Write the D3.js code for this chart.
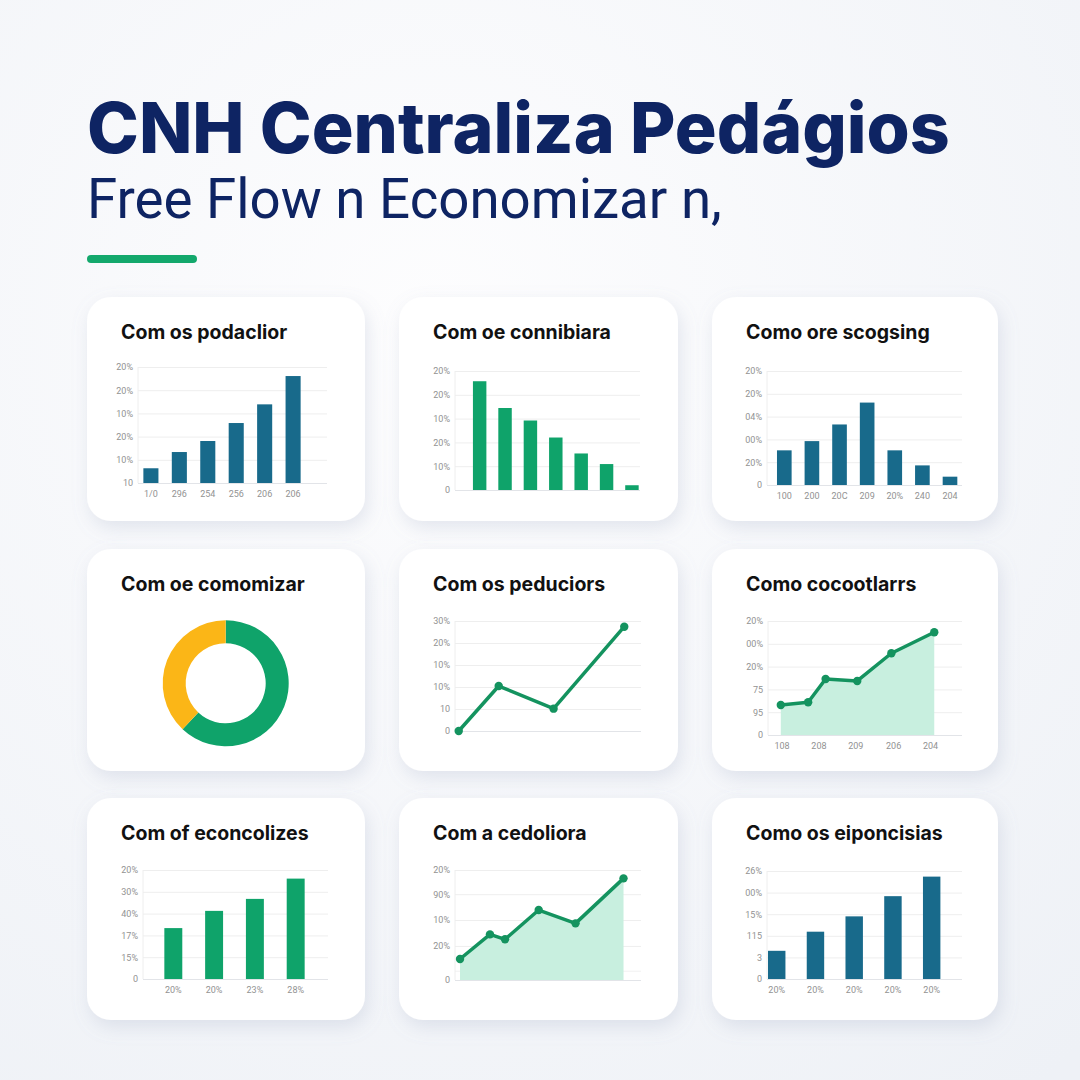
<!DOCTYPE html>
<html><head><meta charset="utf-8">
<script src="https://cdn.jsdelivr.net/npm/d3@7"></script>
<style>html,body{margin:0;padding:0;background:#f8f9fb;} svg{display:block;}</style>
</head><body>
<svg id="c" width="1080" height="1080"></svg>
<script>
// ---------- text ----------
const pageTitle = "CNH Centraliza Pedágios";
const pageSubtitle = "Free Flow n Economizar n,";
const cardTitles = [
  "Com os podaclior", "Com oe connibiara", "Como ore scogsing",
  "Com oe comomizar", "Com os peduciors", "Como cocootlarrs",
  "Com of econcolizes", "Com a cedoliora", "Como os eiponcisias"
];

// ---------- data ----------
// chart 1 (blue bars)
const c1Values = [12.7, 26.7, 36.2, 51.7, 67.8, 92.2];
const c1YLabels = ["10", "10%", "20%", "10%", "20%", "20%"];
const c1XLabels = ["1/0", "296", "254", "256", "206", "206"];
// chart 2 (green bars)
const c2Values = [91.4, 68.9, 58.4, 44.1, 30.7, 21.8, 4.0];
const c2YLabels = ["0", "10%", "20%", "10%", "20%", "20%"];
// chart 3 (blue bars)
const c3Values = [30.4, 38.5, 53.1, 72.3, 30.4, 17.2, 7.3];
const c3YLabels = ["0", "20%", "00%", "04%", "20%", "20%"];
const c3XLabels = ["100", "200", "20C", "209", "20%", "240", "204"];
// chart 4 (donut)
const c4Values = [62, 38];
// chart 5 (line)
const c5X = [2, 23.5, 53, 91];
const c5Y = [0, 40.9, 20.3, 94.8];
const c5YLabels = ["0", "10", "10%", "10%", "20%", "30%"];
// chart 6 (line + area)
const c6X = [6.6, 20.7, 29.7, 46, 63.6, 85.7];
const c6Y = [26.3, 28.7, 49.1, 47.4, 71.7, 90.1];
const c6YLabels = ["0", "95", "75", "20%", "00%", "20%"];
const c6XTicks = [7, 26, 45, 64.5, 83.5];
const c6XLabels = ["108", "208", "209", "206", "204"];
// chart 7 (green bars)
const c7Values = [46.7, 62.5, 73.5, 92.1];
const c7YLabels = ["0", "15%", "17%", "40%", "30%", "20%"];
const c7XLabels = ["20%", "20%", "23%", "28%"];
// chart 8 (line + area)
const c8X = [2.7, 18.8, 26.9, 45, 64.8, 90.6];
const c8Y = [19.1, 41.5, 37.0, 63.6, 51.5, 92.4];
const c8YTicks = [0, 31, 54.5, 78, 100];
const c8YLabels = ["0", "20%", "10%", "90%", "20%"];
const c8ExtraGrid = [8];
// chart 9 (blue bars)
const c9Values = [26.1, 43.8, 58.0, 76.7, 94.8];
const c9YLabels = ["0", "3", "115", "15%", "00%", "26%"];
const c9XLabels = ["20%", "20%", "20%", "20%", "20%"];

// ---------- style ----------
const BLUE = "#186a8b", GREEN = "#0fa36a", LINE = "#14935f", AREA = "#c8efdf", YELLOW = "#fbb617";
const NAVY = "#0e2463";
const FONT = "Inter, 'Open Sans', sans-serif";
const AXFONT = "Roboto, 'Open Sans', sans-serif";

const svg = d3.select("#c");
const defs = svg.append("defs");
const f = defs.append("filter").attr("id", "sh").attr("x", "-20%").attr("y", "-20%").attr("width", "150%").attr("height", "160%");
f.append("feDropShadow").attr("dx", 3).attr("dy", 7).attr("stdDeviation", 9)
  .attr("flood-color", "#8d9bb8").attr("flood-opacity", 0.22);
const bg = defs.append("radialGradient").attr("id", "bg").attr("cx", "40%").attr("cy", "30%").attr("r", "90%");
bg.append("stop").attr("offset", "0%").attr("stop-color", "#fdfdfe");
bg.append("stop").attr("offset", "100%").attr("stop-color", "#eef1f6");

svg.append("rect").attr("width", 1080).attr("height", 1080).attr("fill", "url(#bg)");

// header
function fit(sel, w) {
  const fs = parseFloat(sel.attr("font-size"));
  const len = sel.node().getComputedTextLength();
  sel.attr("font-size", fs * w / len);
}
const t1 = svg.append("text").attr("x", 87).attr("y", 153).attr("font-family", FONT)
  .attr("font-weight", 800).attr("font-size", 70).attr("fill", NAVY).text(pageTitle);
fit(t1, 863);
const t2 = svg.append("text").attr("x", 87).attr("y", 218).attr("font-family", "Roboto, 'Open Sans', sans-serif")
  .attr("font-weight", 400).attr("font-size", 46).attr("fill", NAVY).text(pageSubtitle);
fit(t2, 635);
svg.append("rect").attr("x", 87).attr("y", 255).attr("width", 110).attr("height", 8).attr("rx", 4).attr("fill", "#13a86c");

// cards
const cardX = [87, 399, 712], cardW = [278, 279, 286];
const cardY = [297, 549, 798], cardH = [224, 222, 222];
const cards = [];
for (let r = 0; r < 3; r++) for (let c = 0; c < 3; c++) {
  const g = svg.append("g").attr("transform", `translate(${cardX[c]},${cardY[r]})`);
  g.append("rect").attr("width", cardW[c]).attr("height", cardH[r]).attr("rx", 24)
    .attr("fill", "#ffffff").attr("filter", "url(#sh)");
  g.append("text").attr("x", 34).attr("y", 42).attr("font-family", FONT).attr("font-weight", 700)
    .attr("font-size", 19.5).attr("fill", "#111").text(cardTitles[r * 3 + c]);
  cards.push(g);
}

function yAxis(g, p, ticks, labels, extra) {
  const y = d3.scaleLinear().domain([0, 100]).range([p.b, p.t]);
  if (extra) extra.forEach(v => g.append("line").attr("x1", p.l).attr("x2", p.r)
    .attr("y1", y(v)).attr("y2", y(v)).attr("stroke", "#f1f1f1"));
  const ax = g.append("g").attr("transform", `translate(${p.l},0)`)
    .call(d3.axisLeft(y).tickValues(ticks).tickFormat((d, i) => labels[i]).tickSize(-(p.r - p.l)).tickPadding(5));
  ax.select(".domain").remove();
  ax.selectAll("line").attr("stroke", (d, i) => i === 0 ? "#e2e4e8" : "#eeeeee");
  ax.selectAll("text").attr("font-family", AXFONT).attr("font-size", 9).attr("fill", "#929292");
  g.append("line").attr("x1", p.l).attr("x2", p.l).attr("y1", p.t).attr("y2", p.b).attr("stroke", "#eeeeee");
  return y;
}
function xLabels(g, scale, p, vals, labels) {
  const ax = g.append("g").attr("transform", `translate(0,${p.b})`)
    .call(d3.axisBottom(scale).tickValues(vals).tickFormat((d, i) => labels[i]).tickSize(0).tickPadding(8));
  ax.select(".domain").remove();
  ax.selectAll("text").attr("font-family", AXFONT).attr("font-size", 9).attr("fill", "#929292");
}
const T6 = d3.range(0, 101, 20);

function barChart(g, values, yLab, xLab, color, p, band, pad) {
  const y = yAxis(g, p, T6, yLab);
  const idx = values.map((d, i) => i);
  const x = d3.scaleBand().domain(idx).range(band).padding(pad);
  g.selectAll(".bar").data(values).join("rect").attr("class", "bar")
    .attr("x", (d, i) => x(i)).attr("width", x.bandwidth())
    .attr("y", d => y(d)).attr("height", d => y(0) - y(d)).attr("fill", color);
  if (xLab) xLabels(g, x, p, idx, xLab);
}
function lineChart(g, xs, ys, yTicks, yLab, p, withArea, extra) {
  const y = yAxis(g, p, yTicks, yLab, extra);
  const x = d3.scaleLinear().domain([0, 100]).range([p.l, p.r]);
  const pts = xs.map((d, i) => [d, ys[i]]);
  if (withArea) {
    g.append("path").datum(pts).attr("fill", AREA)
      .attr("d", d3.area().x(d => x(d[0])).y0(y(0)).y1(d => y(d[1])));
  }
  g.append("path").datum(pts).attr("fill", "none").attr("stroke", LINE).attr("stroke-width", 3.5)
    .attr("stroke-linejoin", "round").attr("d", d3.line().x(d => x(d[0])).y(d => y(d[1])));
  g.selectAll(".dot").data(pts).join("circle").attr("class", "dot")
    .attr("cx", d => x(d[0])).attr("cy", d => y(d[1])).attr("r", 4.2).attr("fill", LINE);
  return x;
}

// chart 1
barChart(cards[0], c1Values, c1YLabels, c1XLabels, BLUE, {l: 51, r: 240, t: 70, b: 186}, [43, 227], 0.47);
// chart 2
barChart(cards[1], c2Values, c2YLabels, null, GREEN, {l: 56, r: 241, t: 74, b: 193}, [62, 251.6], 0.47);
// chart 3
barChart(cards[2], c3Values, c3YLabels, c3XLabels, BLUE, {l: 55, r: 250, t: 74, b: 188}, [52, 258.3], 0.47);
// chart 4 donut
{
  const g = cards[3].append("g").attr("transform", "translate(138.7,134.3)");
  const pie = d3.pie().sort(null)(c4Values);
  const arc = d3.arc().innerRadius(40).outerRadius(63);
  g.selectAll("path").data(pie).join("path").attr("d", arc).attr("fill", (d, i) => [GREEN, YELLOW][i]);
}
// chart 5
lineChart(cards[4], c5X, c5Y, T6, c5YLabels, {l: 56, r: 242, t: 72, b: 182}, false);
// chart 6
{
  const p = {l: 56, r: 250, t: 72, b: 186};
  const x = lineChart(cards[5], c6X, c6Y, T6, c6YLabels, p, true);
  xLabels(cards[5], x, p, c6XTicks, c6XLabels);
}
// chart 7
barChart(cards[6], c7Values, c7YLabels, c7XLabels, GREEN, {l: 56, r: 241, t: 72, b: 181}, [54.5, 240.5], 0.56);
// chart 8
lineChart(cards[7], c8X, c8Y, c8YTicks, c8YLabels, {l: 56, r: 242, t: 72, b: 182}, true, c8ExtraGrid);
// chart 9
barChart(cards[8], c9Values, c9YLabels, c9XLabels, BLUE, {l: 55, r: 250, t: 73, b: 181}, [34.7, 249.7], 0.55);
</script>
</body></html>
